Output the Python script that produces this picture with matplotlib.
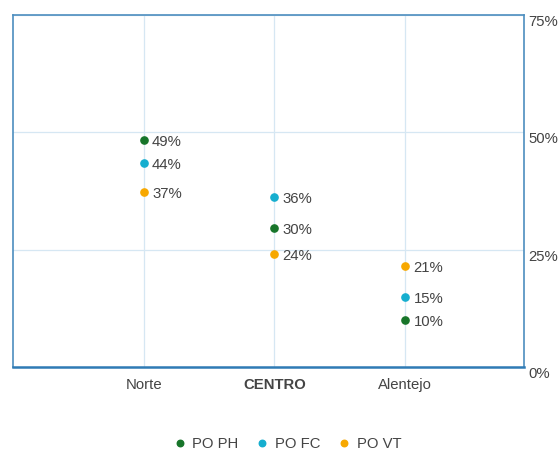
import matplotlib

matplotlib.use("Agg")
import matplotlib.pyplot as plt
from matplotlib.ticker import FuncFormatter

plt.rcParams["font.family"] = ["Liberation Sans", "DejaVu Sans"]

regions = ["Norte", "CENTRO", "Alentejo"]
po_ph = [48.4, 29.6, 10.0]
po_fc = [43.5, 36.2, 14.9]
po_vt = [37.3, 24.1, 21.5]
labels_ph = ["49%", "30%", "10%"]
labels_fc = ["44%", "36%", "15%"]
labels_vt = ["37%", "24%", "21%"]

series = [
    ("PO PH", po_ph, labels_ph, "#17752a"),
    ("PO FC", po_fc, labels_fc, "#15aecf"),
    ("PO VT", po_vt, labels_vt, "#f7a800"),
]

FS = 10.7

fig = plt.figure(figsize=(5.58, 4.5), dpi=100)
ax = fig.add_axes([0.0233, 0.1844, 0.9157, 0.7823])

x = range(len(regions))
for name, vals, labs, col in series:
    ax.plot(x, vals, "o", color=col, ms=5.2, label=name, zorder=3)
    for xi, v, lab in zip(x, vals, labs):
        ax.annotate(lab, (xi, v), xytext=(6, -1.5), textcoords="offset points",
                    va="center", ha="left", fontsize=FS, color="#444444")

ax.set_xlim(-1.0, 2.91)
ax.set_ylim(0, 75)
ax.set_yticks([0, 25, 50, 75])
ax.yaxis.set_major_formatter(FuncFormatter(lambda v, _: f"{v:.0f}%"))
ax.yaxis.tick_right()
ax.set_xticks(list(x))
ax.set_xticklabels(regions)
ax.tick_params(axis="both", length=0, labelsize=FS, labelcolor="#444444")
ax.tick_params(axis="x", pad=8)
ax.tick_params(axis="y", pad=3)
for t in ax.get_yticklabels():
    t.set_va("top")
ax.get_xticklabels()[1].set_fontweight("bold")

ax.grid(True, color="#d6e7f3", lw=0.9)
ax.set_axisbelow(True)
for side in ["left", "right", "top"]:
    ax.spines[side].set_color("#4d8ebf")
    ax.spines[side].set_linewidth(1.2)
ax.spines["bottom"].set_color("#2f7bb5")
ax.spines["bottom"].set_linewidth(1.8)

fig.legend(loc="center", bbox_to_anchor=(0.514, 0.013), ncol=3, frameon=False,
           fontsize=FS, labelcolor="#444444", handlelength=1.0,
           handletextpad=0.35, columnspacing=1.1, markerscale=0.9)

fig.savefig("out.png", dpi=100)
